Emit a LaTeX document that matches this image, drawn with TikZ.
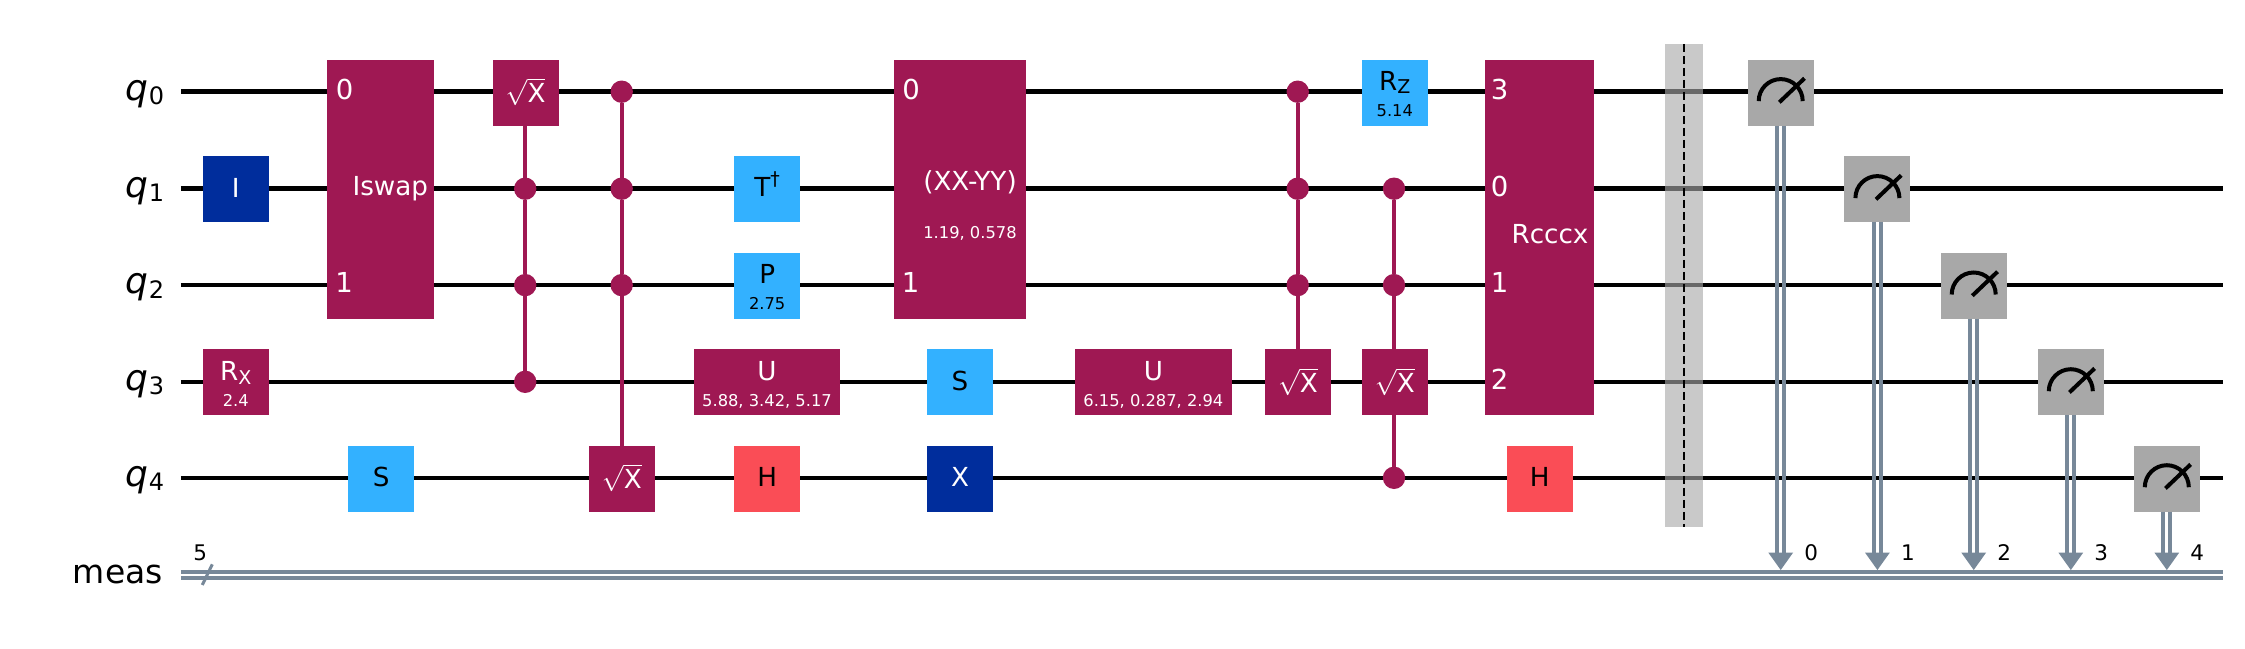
\RequirePackage{fix-cm}
\documentclass[tikz,border=0pt]{standalone}
\usepackage{fontspec}
\setmainfont{DejaVu Sans}
\usetikzlibrary{backgrounds}
\definecolor{qpurple}{HTML}{9F1853}
\definecolor{qlight}{HTML}{33B1FF}
\definecolor{qdark}{HTML}{002D9C}
\definecolor{qred}{HTML}{FA4D56}
\definecolor{qgray}{HTML}{A8A8A8}
\definecolor{qclass}{HTML}{778899}
\newcommand\gfs{\fontsize{26.2}{30}\selectfont}
\newcommand\pfs{\fontsize{16.3}{20}\selectfont}
\newcommand\sfs{\fontsize{19}{21}\selectfont}
\newcommand\qlab[1]{{\fontsize{36}{38}\selectfont\itshape q}\raisebox{-4.8pt}{\fontsize{24}{26}\selectfont #1}}
\newcommand\sqx{$\sqrt{\mathrm{X}}$}
\def\ya{91.7}\def\yb{188.7}\def\yc{285.1}\def\yd{381.8}\def\ye{477.8}
\def\ba{92.8}\def\bb{188.9}\def\bc{285.7}\def\bd{382.2}\def\be{478.7}
\tikzset{
  gbox/.style={inner sep=0pt,outer sep=0pt,minimum width=66pt,minimum height=66pt,fill=#1},
  wbox/.style 2 args={inner sep=0pt,outer sep=0pt,minimum width=#1pt,minimum height=66pt,fill=#2},
  mbox/.style 2 args={inner sep=0pt,outer sep=0pt,minimum width=#1pt,minimum height=#2pt,fill=qpurple},
  gtxt/.style={inner sep=0pt,anchor=base,font=\gfs,text=#1},
  gtxt/.default=white,
  qtxt/.style={inner sep=0pt,anchor=base,font=\fontsize{27.5}{30}\selectfont,text=white},
  ptxt/.style={inner sep=0pt,anchor=base,font=\pfs,text=#1},
  ptxt/.default=white,
  wlab/.style={inner sep=0pt,anchor=base east,font=\fontsize{33}{36}\selectfont},
  clab/.style={inner sep=0pt,anchor=base,font=\fontsize{21.5}{24}\selectfont},
  dot/.style={circle,inner sep=0pt,outer sep=0pt,minimum size=22.4pt,fill=qpurple},
  wire/.style={line width=4.6pt,black},
  ctl/.style={line width=4.2pt,qpurple},
  cline/.style={line width=3.8pt,qclass},
  meter/.style={line width=4pt,black},
}
\begin{document}
\begin{tikzpicture}[x=1pt,y=-1pt]
\useasboundingbox (0,0) rectangle (2245,648);
% wire ends
\foreach \n/\y in {a/\ya,b/\yb,c/\yc,d/\yd,e/\ye}{
  \coordinate (s\n) at (180.8,\y);
  \coordinate (t\n) at (2223,\y);
}
\coordinate (cs1) at (180.8,571.9);\coordinate (ct1) at (2223,571.9);
\coordinate (cs2) at (180.8,577.8);\coordinate (ct2) at (2223,577.8);
% wire labels
\node[wlab] (lq0) at (164.3,100) {\qlab{0}};
\node[wlab] (lq1) at (164.3,197) {\qlab{1}};
\node[wlab] (lq2) at (164.3,293.4) {\qlab{2}};
\node[wlab] (lq3) at (164.3,390.1) {\qlab{3}};
\node[wlab] (lq4) at (164.3,486.1) {\qlab{4}};
\node[wlab] (lmeas) at (163,583.5) {meas};
% single gates
\node[gbox=qdark] (gi) at (235.8,\bb) {};
\node[gtxt] (ti) at (235.8,197) {I};
\node[gbox=qpurple] (grx) at (235.8,\bd) {};
\node[gtxt] (trx) at (235.8,380.5) {R\raisebox{-3.5pt}{\sfs X}};
\node[ptxt] (prx) at (235.8,406.3) {2.4};
\node[mbox={106.6}{258.6}] (giswap) at (380.5,189.3) {};
\node[qtxt] (iswap0) at (344.7,99.5) {0};
\node[qtxt] (iswap1) at (344,292.8) {1};
\node[gtxt] (tiswap) at (390.3,195.5) {Iswap};
\node[gbox=qlight] (gs1) at (381.2,\be) {};
\node[gtxt=black] (ts1) at (381.2,486.6) {S};
\node[gbox=qpurple] (gsx1) at (525.6,\ba) {};
\node[gtxt] (tsx1) at (525.6,102.7) {\sqx};
\node[gbox=qpurple] (gsx2) at (621.8,\be) {};
\node[gtxt] (tsx2) at (621.8,488.7) {\sqx};
\node[dot] (d1b) at (525.2,\yb) {};
\node[dot] (d1c) at (525.2,\yc) {};
\node[dot] (d1d) at (525.2,\yd) {};
\node[dot] (d2a) at (621.7,\ya) {};
\node[dot] (d2b) at (621.7,\yb) {};
\node[dot] (d2c) at (621.7,\yc) {};
\node[gbox=qlight] (gtd) at (767.2,\bb) {};
\node[gtxt=black] (ttd) at (767.2,196.5) {T\raisebox{11.5pt}{\sfs †}};
\node[gbox=qlight] (gp) at (767.2,\bc) {};
\node[gtxt=black] (tp) at (767.2,283.5) {P};
\node[ptxt=black] (pp) at (767.2,309.5) {2.75};
\node[wbox={146}{qpurple}] (gu1) at (767,\bd) {};
\node[gtxt] (tu1) at (767,380.5) {U};
\node[ptxt] (pu1) at (767,406.3) {5.88, 3.42, 5.17};
\node[gbox=qred] (gh1) at (767.2,\be) {};
\node[gtxt=black] (th1) at (767.2,486.6) {H};
\node[mbox={132}{258.6}] (gxx) at (960,189.3) {};
\node[qtxt] (xx0) at (911.2,99.5) {0};
\node[qtxt] (xx1) at (910.5,292.8) {1};
\node[gtxt] (txx) at (970,190) {(XX-YY)};
\node[ptxt] (pxx) at (970,238.5) {1.19, 0.578};
\node[gbox=qlight] (gs2) at (960,\bd) {};
\node[gtxt=black] (ts2) at (960,390.5) {S};
\node[gbox=qdark] (gx) at (960,\be) {};
\node[gtxt] (tx) at (960,486.6) {X};
\node[wbox={157.2}{qpurple}] (gu2) at (1153.4,\bd) {};
\node[gtxt] (tu2) at (1153.4,380.5) {U};
\node[ptxt] (pu2) at (1153.4,406.3) {6.15, 0.287, 2.94};
\node[gbox=qpurple] (gsx3) at (1298,\bd) {};
\node[gtxt] (tsx3) at (1298,392.8) {\sqx};
\node[dot] (d3a) at (1297.7,\ya) {};
\node[dot] (d3b) at (1297.7,\yb) {};
\node[dot] (d3c) at (1297.7,\yc) {};
\node[gbox=qlight] (grz) at (1394.8,\ba) {};
\node[gtxt=black] (trz) at (1394.8,90) {R\raisebox{-3.5pt}{\sfs Z}};
\node[ptxt=black] (prz) at (1394.8,116.5) {5.14};
\node[gbox=qpurple] (gsx4) at (1394.8,\bd) {};
\node[gtxt] (tsx4) at (1394.8,392.8) {\sqx};
\node[dot] (d4b) at (1394,\yb) {};
\node[dot] (d4c) at (1394,\yc) {};
\node[dot] (d4e) at (1394,\ye) {};
\node[mbox={109}{354.5}] (grc) at (1539.5,237.3) {};
\node[qtxt] (rc3) at (1499.5,99.5) {3};
\node[qtxt] (rc0) at (1499.5,196.5) {0};
\node[qtxt] (rc1) at (1499.5,292.8) {1};
\node[qtxt] (rc2) at (1499.5,389.5) {2};
\node[gtxt] (trc) at (1550,243.5) {Rcccx};
\node[gbox=qred] (gh2) at (1539.6,\be) {};
\node[gtxt=black] (th2) at (1539.6,486.6) {H};
% background: wires and control lines
\begin{scope}[on background layer]
  \fill[white] (0,0) rectangle (2245,648);
  \foreach \n in {a,b,c,d,e}{\draw[wire] (s\n) -- (t\n);}
  \draw[ctl] (d1b |- gsx1) -- (d1b) -- (d1c) -- (d1d);
  \draw[ctl] (d2a) -- (d2b) -- (d2c) -- (d2c |- gsx2);
  \draw[ctl] (d3a) -- (d3b) -- (d3c) -- (d3c |- gsx3);
  \draw[ctl] (d4b) -- (d4c) -- (d4e);
\end{scope}
% barrier
\coordinate (ba) at (1683.8,43.8);
\coordinate (bz) at (1683.8,526.9);
\fill[qgray,opacity=.62] (1664.8,43.8) rectangle (1702.8,526.9);
\draw[black,line width=2pt,dash pattern=on 8pt off 4pt] (ba) -- (bz);
% measures
\foreach \i/\x/\b/\y in {0/1780.7/\ba/\ya,1/1877.4/\bb/\yb,2/1973.7/\bc/\yc,3/2070.8/\bd/\yd,4/2166.8/\be/\ye}{
  \node[gbox=qgray] (m\i) at (\x,\b) {};
  \coordinate (a\i) at (\x,570);
  \draw[cline] ([xshift=-3.5pt]m\i.south) -- ([xshift=-3.5pt]a\i |- 0,556);
  \draw[cline] ([xshift=3.5pt]m\i.south) -- ([xshift=3.5pt]a\i |- 0,556);
  \fill[qclass] (a\i) -- ++(-12.4,-17.4) -- ++(24.8,0) -- cycle;
  \draw[meter] ([shift={(-22,9.4)}]\x,\y) arc[start angle=180,end angle=0,x radius=22,y radius=-22];
  \draw[meter] ([shift={(-1.4,10.6)}]\x,\y) -- ([shift={(23.8,-13.4)}]\x,\y);
  \node[clab] (c\i) at (\x+30.5,560.5) {\i};
}
\draw[cline] (cs1) -- (ct1);
\draw[cline] (cs2) -- (ct2);
\coordinate (sl1) at (202.3,585);
\coordinate (sl2) at (212.3,564.3);
\draw[line width=3pt,qclass] (sl1) -- (sl2);
\node[clab] (cn) at (200.3,560.5) {5};
\end{tikzpicture}
\end{document}
